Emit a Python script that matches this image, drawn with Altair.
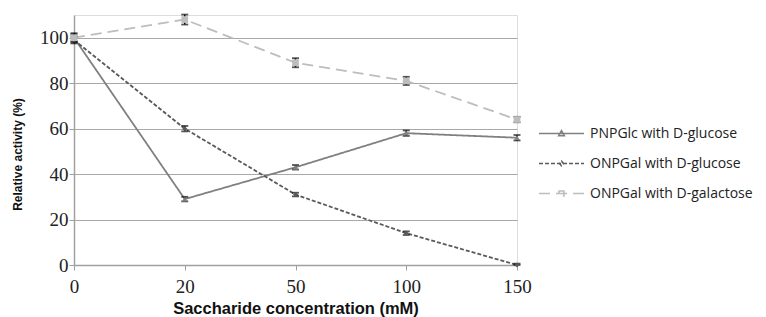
import altair as alt
import pandas as pd

concentrations = ["0", "20", "50", "100", "150"]
series_names = ["PNPGlc with D-glucose", "ONPGal with D-glucose", "ONPGal with D-galactose"]
pnpglc_glc = [100, 29, 43, 58, 56]
onpgal_glc = [99, 60, 31, 14, 0]
onpgal_gal = [100, 108, 89, 81, 64]
err_pnpglc_glc = [1.5, 1.0, 1.0, 1.2, 1.2]
err_onpgal_glc = [1.5, 1.2, 0.8, 0.8, 0.6]
err_onpgal_gal = [2.0, 2.2, 2.0, 1.8, 1.2]

line_colors = ["#808080", "#5a5a5a", "#bdbdbd"]
dashes = [[1, 0], [4, 2], [11, 6]]
marker_shapes = ["triangle-up", "diamond", "square"]
marker_sizes = [30, 25, 45]
legend_paths = [
    "M-2,0H2M-0.25,0.2L0,-0.25L0.25,0.2Z",
    "M-2,0H2M0,-0.2L0.18,0L0,0.2L-0.18,0Z",
    "M-2,0H2M-0.22,-0.22H0.22V0.22H-0.22Z",
]

rows = []
for name, vals, errs in zip(series_names,
                            [pnpglc_glc, onpgal_glc, onpgal_gal],
                            [err_pnpglc_glc, err_onpgal_glc, err_onpgal_gal]):
    for c, v, e in zip(concentrations, vals, errs):
        rows.append({"series": name, "conc": c, "value": v,
                     "lo": max(v - e, 0), "hi": v + e})
df = pd.DataFrame(rows)

x_enc = alt.X("conc:O", sort=concentrations,
              scale=alt.Scale(type="point", padding=0),
              axis=alt.Axis(title="Saccharide concentration (mM)", labelAngle=0,
                            labelFont="Liberation Serif", labelFontSize=19,
                            labelColor="#222222", labelPadding=7,
                            tickSize=5, tickColor="#a0a0a0",
                            domainColor="#a0a0a0", domainWidth=1.5,
                            titleFont="Liberation Sans", titleFontSize=16.5,
                            titleFontWeight="bold", titleColor="#111111",
                            titleBaseline="middle", titleY=43, grid=False))
y_scale = alt.Scale(domain=[0, 110], nice=False)
y_enc = alt.Y("value:Q", scale=y_scale,
              axis=alt.Axis(title="Relative activity (%)", values=[0, 20, 40, 60, 80, 100],
                            labelFont="Liberation Serif", labelFontSize=19,
                            labelColor="#222222", labelPadding=1,
                            tickSize=5, tickColor="#a0a0a0",
                            domainColor="#a0a0a0", domainWidth=1.5,
                            gridColor="#a8a8a8", gridWidth=1.2,
                            titleFont="Liberation Sans", titleFontSize=12,
                            titleFontWeight="bold", titleColor="#111111",
                            titleAngle=-90, titleAlign="center", titleBaseline="middle",
                            titleX=-57, titleY=139))

base = alt.Chart(df)
xs = alt.X("conc:O", sort=concentrations)
ys = alt.Y("value:Q", scale=y_scale)

line_layers = []
for i, (name, col, dash) in enumerate(zip(series_names, line_colors, dashes)):
    line_layers.append(
        base.transform_filter(alt.datum.series == name)
        .mark_line(strokeWidth=1.8, color=col, strokeDash=dash)
        .encode(x=x_enc if i == 0 else xs, y=y_enc if i == 0 else ys)
    )

err_rule = base.mark_rule(color="#111111", strokeWidth=1.5).encode(
    x=xs, y=alt.Y("lo:Q", scale=y_scale), y2="hi:Q")
cap_lo = base.mark_tick(color="#111111", thickness=1.8, size=7).encode(
    x=xs, y=alt.Y("lo:Q", scale=y_scale))
cap_hi = base.mark_tick(color="#111111", thickness=1.8, size=7).encode(
    x=xs, y=alt.Y("hi:Q", scale=y_scale))

point_layers = []
for name, col, shp, sz in zip(series_names, line_colors, marker_shapes, marker_sizes):
    point_layers.append(
        base.transform_filter(alt.datum.series == name)
        .mark_point(filled=True, opacity=1, shape=shp, size=sz, color=col)
        .encode(x=xs, y=ys)
    )

leg = alt.Legend(title=None, orient="none", legendX=475, legendY=106, padding=0,
                 symbolSize=506, symbolStrokeWidth=1.6, symbolOpacity=1,
                 labelFont="Open Sans", labelFontSize=14, labelColor="#222222",
                 labelOffset=16, rowPadding=10, labelLimit=300)

legend_layer = base.transform_filter("false").mark_point(filled=False, opacity=1).encode(
    x=xs, y=ys,
    color=alt.Color("series:N", scale=alt.Scale(domain=series_names, range=line_colors),
                    legend=leg),
    shape=alt.Shape("series:N", scale=alt.Scale(domain=series_names, range=legend_paths),
                    legend=leg),
    strokeDash=alt.StrokeDash("series:N", scale=alt.Scale(domain=series_names, range=dashes),
                              legend=leg),
)

chart = alt.layer(*line_layers, err_rule, cap_lo, cap_hi, *point_layers, legend_layer).properties(
    width=443, height=250,
    padding={"left": 66, "top": 7, "right": 241, "bottom": 52},
    autosize=alt.AutoSizeParams(type="none"),
).configure_view(stroke=None).configure(background="white")

chart.save("out.html", embed_options={"renderer": "svg", "actions": False})
